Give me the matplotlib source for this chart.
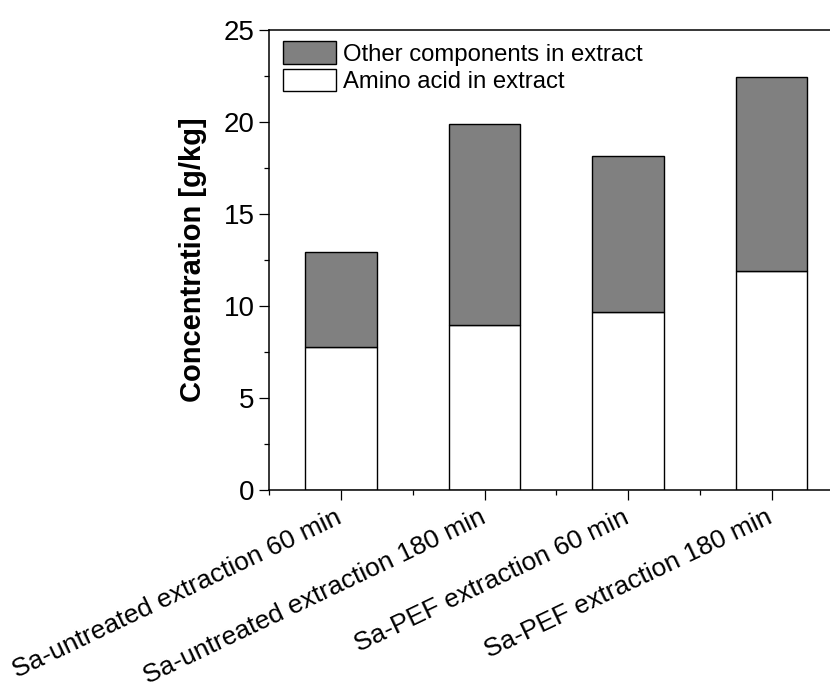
import matplotlib
matplotlib.use("Agg")
import matplotlib.pyplot as plt
import matplotlib.transforms as mtransforms
from matplotlib.ticker import MultipleLocator, FixedLocator
import numpy as np

plt.rcParams['font.family'] = ['Liberation Sans', 'DejaVu Sans']

# data
samples = ["Sa-untreated extraction 60 min",
           "Sa-untreated extraction 180 min",
           "Sa-PEF extraction 60 min",
           "Sa-PEF extraction 180 min"]
amino_acid = [7.77, 8.95, 9.66, 11.92]
total = [12.95, 19.89, 18.15, 22.43]
other = [t - a for t, a in zip(total, amino_acid)]

fig = plt.figure(figsize=(8.3, 6.91), dpi=100)
ax = fig.add_axes([0.3245, 0.2909, 0.6916, 0.6657])

x = np.arange(1, len(samples) + 1)
ax.bar(x, amino_acid, width=0.5, color="white", edgecolor="black", linewidth=1.0,
       label="Amino acid in extract", zorder=2)
ax.bar(x, other, width=0.5, bottom=amino_acid, color="#808080", edgecolor="black",
       linewidth=1.0, label="Other components in extract", zorder=2)

ax.set_xlim(0.5, 4.5)
ax.set_ylim(0, 25)
ax.yaxis.set_major_locator(MultipleLocator(5))
ax.yaxis.set_minor_locator(MultipleLocator(2.5))
ax.set_xticks(x)
ax.xaxis.set_minor_locator(FixedLocator([0.5, 1.5, 2.5, 3.5, 4.5]))

for s in ["left", "bottom", "top", "right"]:
    ax.spines[s].set_linewidth(1.1)

ax.tick_params(axis="both", which="major", direction="out", length=7, width=0.9,
               labelsize=20, top=False, right=False)
ax.tick_params(axis="both", which="minor", direction="out", length=3.3, width=0.9,
               top=False, right=False)

ax.set_xticklabels(samples, rotation=25.5, ha="right", va="baseline",
                   rotation_mode="anchor", fontsize=19)
offset = mtransforms.ScaledTranslation(2.3 / 100, -17.7 / 100, fig.dpi_scale_trans)
for lbl in ax.get_xticklabels():
    lbl.set_transform(lbl.get_transform() + offset)

ax.set_ylabel("Concentration [g/kg]", fontsize=21, fontweight="bold", labelpad=12)

handles, labels = ax.get_legend_handles_labels()
ax.legend(handles[::-1], labels[::-1], loc="upper left", frameon=False, fontsize=17.2,
          handlelength=2.22, handleheight=1.09, handletextpad=0.3, labelspacing=0.125,
          borderaxespad=0, borderpad=0, bbox_to_anchor=(0.0239, 0.976))

fig.savefig("out.png", dpi=100)
